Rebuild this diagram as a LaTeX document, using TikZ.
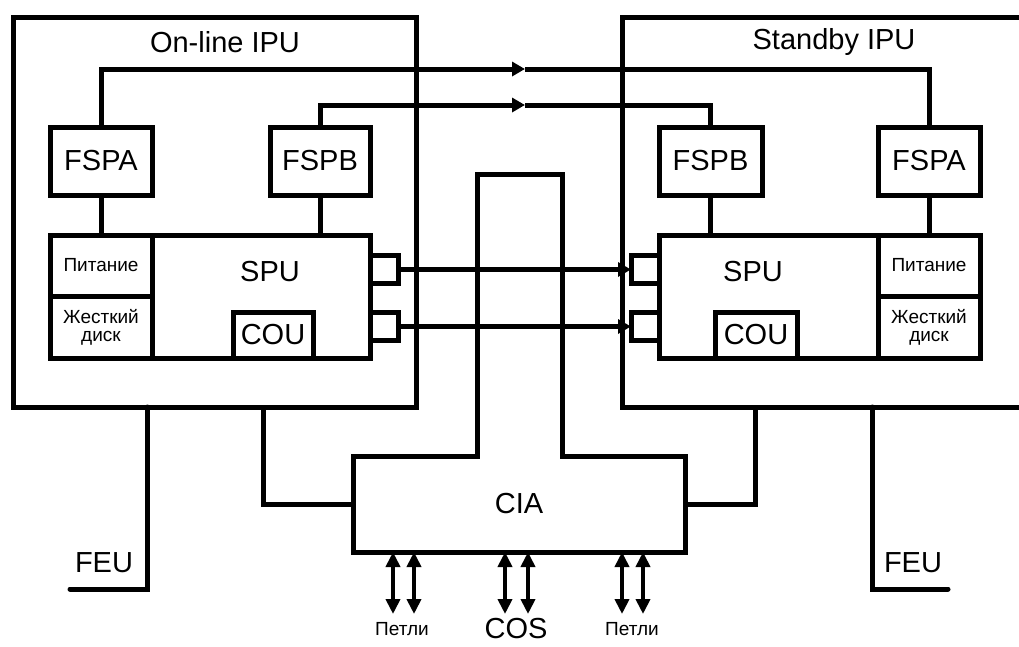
\documentclass[tikz,border=0pt]{standalone}
\usepackage{fontspec}
\setmainfont{Liberation Sans}
\usepackage{tikz}
\usetikzlibrary{arrows.meta,positioning,calc}
\definecolor{ink}{HTML}{000000}
\newcommand{\bigfont}{\fontsize{29}{30}\selectfont}
\newcommand{\smallfont}{\fontsize{19}{18}\selectfont}
\tikzset{
  ipubox/.style={rectangle,draw=ink,line width=5pt,inner sep=0pt,outer sep=0pt},
  unitbox/.style={rectangle,draw=ink,line width=5pt,fill=white,text=ink,
    font=\bigfont,inner sep=0pt,outer sep=0pt},
  cellbox/.style={rectangle,draw=ink,line width=5pt,fill=white,text=ink,
    font=\smallfont,align=center,inner sep=0pt,outer sep=0pt,minimum width=102pt},
  portbox/.style={rectangle,draw=ink,line width=5pt,fill=white,inner sep=0pt,
    outer sep=0pt,minimum width=28pt,minimum height=28pt},
  unitlabel/.style={font=\bigfont,text=ink,inner sep=0pt,outer sep=0pt},
  smalllabel/.style={font=\smallfont,text=ink,inner sep=0pt},
  link/.style={line width=5pt,color=ink},
  linkarr/.style={link,-{Triangle[length=13pt,width=14pt]}},
  busarr/.style={line width=4.5pt,color=ink,
    {Triangle[length=15pt,width=14pt]}-{Triangle[length=15pt,width=14pt]}},
}

\begin{document}
\begin{tikzpicture}[x=1pt,y=-1pt]
  \useasboundingbox (0,0) rectangle (1019,646);
  % IPU frames
  \node[ipubox,minimum width=403pt,minimum height=390pt] (ipuL) at (214.5,212) {};
  \node[ipubox,minimum width=420pt,minimum height=390pt] (ipuR) at (832,212) {};
  \node[unitlabel] (ipuLtxt) at (225,42) {On-line IPU};
  \node[unitlabel] (ipuRtxt) at (834,42) {Standby IPU};

  % on-line side
  \node[unitbox,minimum width=320pt,minimum height=123pt] (spuL) at (210,296.5) {};
  \node[cellbox,minimum height=61pt,below right=0pt and 0pt of spuL.north west] (pwrL) {Питание};
  \node[cellbox,minimum height=62pt,below=0pt of pwrL] (hddL) {Жесткий\\диск};
  \node[unitbox,minimum width=80pt,minimum height=46pt] (couL) at (273,335) {COU};
  \node[unitlabel] (spuLtxt) at (270,272) {SPU};
  \node[unitbox,minimum width=102pt,minimum height=68pt,above=40pt of pwrL] (fspaL) {FSPA};
  \node[unitbox,minimum width=100pt,minimum height=68pt,above left=40pt and 0pt of spuL.north east] (fspbL) {FSPB};
  \node[portbox,right=0pt of spuL.east,yshift=27pt] (portLa) {};
  \node[portbox,right=0pt of spuL.east,yshift=-30pt] (portLb) {};

  % standby side
  \node[unitbox,minimum width=321pt,minimum height=123pt] (spuR) at (819.5,296.5) {};
  \node[cellbox,minimum height=61pt,below left=0pt and 0pt of spuR.north east] (pwrR) {Питание};
  \node[cellbox,minimum height=62pt,below=0pt of pwrR] (hddR) {Жесткий\\диск};
  \node[unitbox,minimum width=82pt,minimum height=46pt] (couR) at (756,335) {COU};
  \node[unitlabel] (spuRtxt) at (753,272) {SPU};
  \node[unitbox,minimum width=102pt,minimum height=68pt,above=40pt of pwrR] (fspaR) {FSPA};
  \node[unitbox,minimum width=103pt,minimum height=68pt,above right=40pt and 0pt of spuR.north west] (fspbR) {FSPB};
  \node[portbox,left=0pt of spuR.west,yshift=27pt] (portRa) {};
  \node[portbox,left=0pt of spuR.west,yshift=-30pt] (portRb) {};

  % CIA
  \node[unitlabel,minimum width=332pt,minimum height=96pt] (cia) at (519,504) {CIA};
  \coordinate (tabL) at (477,174);
  \coordinate (tabR) at (562,174);
  \draw[link] (cia.north west) -| (tabL) -- (tabR) |- (cia.north east)
    -- (cia.south east) -- (cia.south west) -- cycle;

  % FSP links
  \draw[link] (fspaL) -- (pwrL);
  \draw[link] (fspbL) -- (fspbL |- spuL.north);
  \draw[link] (fspbR) -- (fspbR |- spuR.north);
  \draw[link] (fspaR) -- (pwrR);
  \coordinate (midA) at (525,69);
  \coordinate (midB) at (525,105);
  \draw[linkarr] (fspaL.north) |- (midA);
  \draw[link] (midA) -| (fspaR.north);
  \draw[linkarr] (fspbL.north) |- (midB);
  \draw[link] (midB) -| (fspbR.north);

  % SPU to SPU
  \draw[linkarr] (portLa) -- (portRa);
  \draw[linkarr] (portLb) -- (portRb);

  % FEU and CIA feeds
  \coordinate (feuLend) at (70,589);
  \coordinate (feuRend) at (948,589);
  \draw[link,line cap=round] ([xshift=134pt]ipuL.south west) |- (feuLend);
  \draw[link] ([xshift=250pt]ipuL.south west) |- (cia.west);
  \draw[link] ([xshift=133pt]ipuR.south west) |- (cia.east);
  \draw[link,line cap=round] ([xshift=250pt]ipuR.south west) |- (feuRend);
  \node[unitlabel] (feuL) at (104,563) {FEU};
  \node[unitlabel] (feuR) at (913,563) {FEU};

  % loops and COS
  \coordinate (busa) at (393,614);
  \coordinate (busb) at (414,614);
  \coordinate (busc) at (505,614);
  \coordinate (busd) at (528,614);
  \coordinate (buse) at (622,614);
  \coordinate (busf) at (643,614);
  \draw[busarr] (busa |- cia.south) -- (busa);
  \draw[busarr] (busb |- cia.south) -- (busb);
  \draw[busarr] (busc |- cia.south) -- (busc);
  \draw[busarr] (busd |- cia.south) -- (busd);
  \draw[busarr] (buse |- cia.south) -- (buse);
  \draw[busarr] (busf |- cia.south) -- (busf);
  \node[smalllabel] (loopL) at (402,629) {Петли};
  \node[unitlabel] (cos) at (516,629) {COS};
  \node[smalllabel] (loopR) at (632,629) {Петли};
\end{tikzpicture}
\end{document}
